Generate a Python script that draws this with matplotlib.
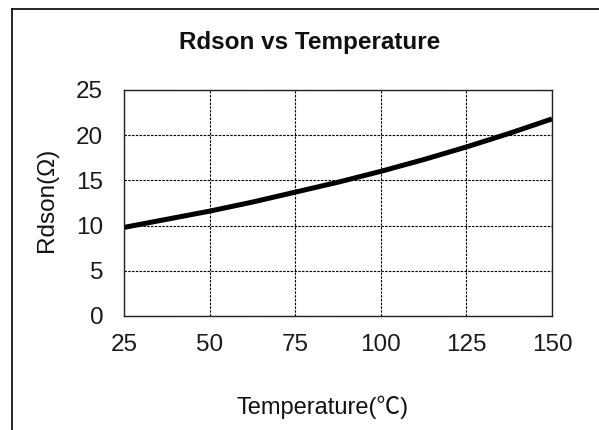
import matplotlib
matplotlib.use('Agg')
import matplotlib.pyplot as plt
from matplotlib.lines import Line2D

# 数据
temperature = [25, 37.5, 50, 62.5, 75, 87.5, 100, 112.5, 125, 137.5, 150]
rdson = [9.8, 10.7, 11.6, 12.6, 13.7, 14.8, 16.0, 17.3, 18.7, 20.2, 21.8]
x_ticks = [25, 50, 75, 100, 125, 150]
y_ticks = [0, 5, 10, 15, 20, 25]

plt.rcParams['font.family'] = ['Liberation Sans', 'Noto Sans CJK SC', 'DejaVu Sans']

fig = plt.figure(figsize=(5.99, 4.30), dpi=100)
ax = fig.add_axes([124 / 599, 1 - 316 / 430, 428 / 599, 226 / 430])

ax.plot(temperature, rdson, color='black', linewidth=3.6, solid_capstyle='butt')

ax.set_xlim(25, 150)
ax.set_ylim(0, 25)
ax.set_xticks(x_ticks)
ax.set_yticks(y_ticks)
ax.tick_params(length=0, labelsize=17.5, colors='#1a1a1a')
ax.tick_params(axis='x', pad=13)
ax.tick_params(axis='y', pad=15)
ax.grid(True, color='black', linestyle=(0, (2.2, 1.2)), linewidth=0.8)
for s in ax.spines.values():
    s.set_color('#222222')
    s.set_linewidth(1.0)

fig.text(310 / 599, 1 - 42 / 430, 'Rdson vs Temperature', ha='center', va='center',
         fontsize=17.5, fontweight='bold', color='#111111')
fig.text(323 / 599, 1 - 407 / 430, 'Temperature(\u2103)', ha='center', va='center',
         fontsize=17, color='#111111')
fig.text(47 / 599, 1 - 200 / 430, 'Rdson(\u03a9)', ha='center', va='center',
         rotation=90, fontsize=17.5, color='#111111')

# 外框
fig.add_artist(Line2D([12 / 599, 12 / 599], [0, 1 - 9 / 430], transform=fig.transFigure,
                      color='black', linewidth=1.2))
fig.add_artist(Line2D([12 / 599, 1], [1 - 9 / 430, 1 - 9 / 430], transform=fig.transFigure,
                      color='black', linewidth=1.2))

fig.savefig('out.png', dpi=100)
